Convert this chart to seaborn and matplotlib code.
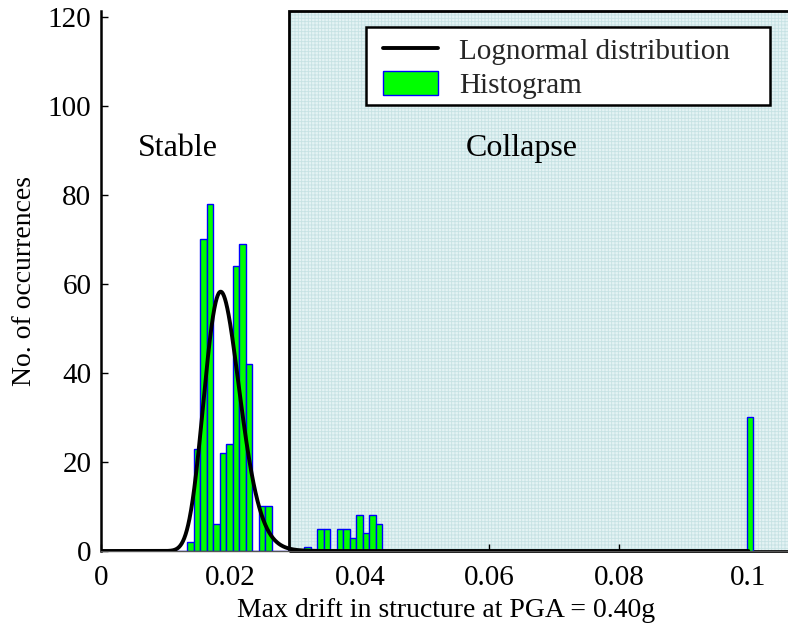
import numpy as np
import pandas as pd
import matplotlib
matplotlib.use("Agg")
import matplotlib.pyplot as plt
from matplotlib.patches import Rectangle
from matplotlib.lines import Line2D
from matplotlib.patches import Patch
import seaborn as sns

# ---------------- data ----------------
BIN_START = 0.00526          # left edge of first histogram bin
BIN_WIDTH = 0.001005         # histogram bin width
# counts for contiguous bins starting at BIN_START (bins 0..59)
counts_main = [0, 0, 0, 0, 0, 0, 0, 0,
               2, 23, 70, 78, 6, 22, 24, 64, 69, 42, 0, 10, 10,
               0, 0, 0, 0, 0,
               1, 0, 5, 5, 0, 5, 5, 3, 8, 4, 8, 6,
               0, 0, 0, 0, 0, 0, 0, 0, 0, 0, 0, 0, 0, 0, 0, 0, 0, 0, 0, 0, 0, 0]
collapse_bin_index = 94      # bin holding the collapsed cases (drift = 0.1)
collapse_count = 30

# lognormal fit parameters
LOGN_MEDIAN = 0.0189
LOGN_SIGMA = 0.148
LOGN_SCALE = 0.404           # total count x bin width
CURVE_XMAX = 0.1

COLLAPSE_LIMIT = 0.029
x_ticks = [0, 0.02, 0.04, 0.06, 0.08, 0.1]
x_tick_labels = ["0", "0.02", "0.04", "0.06", "0.08", "0.1"]
y_ticks = [0, 20, 40, 60, 80, 100, 120]
legend_labels = ["Lognormal distribution", "Histogram"]

# ---------------- build tables ----------------
idx = list(range(len(counts_main))) + [collapse_bin_index]
cnt = list(counts_main) + [collapse_count]
centers = [BIN_START + (i + 0.5) * BIN_WIDTH for i in idx]
hist_df = pd.DataFrame({"drift": centers, "count": cnt})

xc = np.linspace(1e-5, CURVE_XMAX, 2000)
pdf = np.exp(-(np.log(xc / LOGN_MEDIAN)) ** 2 / (2 * LOGN_SIGMA ** 2)) / (xc * LOGN_SIGMA * np.sqrt(2 * np.pi))
curve_df = pd.DataFrame({"drift": np.concatenate([[0.0], xc]),
                         "occ": np.concatenate([[0.0], LOGN_SCALE * pdf])})

# ---------------- plot ----------------
sns.set_theme(style="white")
plt.rcParams["font.family"] = ["Liberation Serif", "DejaVu Serif"]
plt.rcParams["hatch.linewidth"] = 0.6
plt.rcParams["hatch.color"] = "#c6e2e4"

fig = plt.figure(figsize=(7.88, 6.25), dpi=100)
AX_L, AX_B, AX_W, AX_H = 101, 74, 690, 540
ax = fig.add_axes([AX_L / 788, AX_B / 625, AX_W / 788, AX_H / 625])

def px_to_axes(px, py):
    """pixel position in the 788x625 image (origin top-left) -> axes fraction"""
    return (px - AX_L) / AX_W, (625 - AX_B - py) / AX_H

YMAX = 121.3
XMAX = 0.1066

# collapse region
ax.add_patch(Rectangle((COLLAPSE_LIMIT, 0), 0.2, YMAX, facecolor="#e4f3f4",
                       edgecolor="#c6e2e4", hatch="+++++", linewidth=0, zorder=0,
                       clip_on=False))
ax.add_patch(Rectangle((COLLAPSE_LIMIT, 0), 0.2, YMAX, facecolor="none",
                       edgecolor="black", linewidth=2.0, zorder=1, clip_on=False))

sns.barplot(data=hist_df, x="drift", y="count", native_scale=True, width=1.0,
            color="#00ff00", edgecolor="#0000ff", linewidth=1.0, errorbar=None,
            saturation=1, ax=ax, zorder=2)

sns.lineplot(data=curve_df, x="drift", y="occ", color="black", linewidth=2.8,
             ax=ax, zorder=3)

ax.set_xlim(0, XMAX)
ax.set_ylim(0, YMAX)
ax.set_xticks(x_ticks)
ax.set_xticklabels(x_tick_labels)
ax.set_yticks(y_ticks)
ax.tick_params(axis="both", direction="in", length=5, width=1, labelsize=21,
               colors="black", pad=7)
ax.tick_params(axis="x", pad=10)
ax.tick_params(axis="both", which="both", bottom=True, left=True)

for s in ["top", "right"]:
    ax.spines[s].set_visible(False)
ax.spines["left"].set_color("black")
ax.spines["left"].set_linewidth(1.8)
ax.spines["bottom"].set_color("#555555")
ax.spines["bottom"].set_linewidth(1.0)

ax.set_xlabel("Max drift in structure at PGA = 0.40g", fontsize=20, color="black", labelpad=5)
ax.set_ylabel("No. of occurrences", fontsize=20, color="black", labelpad=8)

ax.text(0.0119, 90.5, "Stable", fontsize=23, ha="center", va="center", color="black")
ax.text(0.0650, 90.5, "Collapse", fontsize=23, ha="center", va="center", color="black")

# legend frame (drawn separately to reproduce the roomy MATLAB-style box)
fx0, fy0 = px_to_axes(366, 105)
fx1, fy1 = px_to_axes(770, 27)
ax.add_patch(Rectangle((fx0, fy0), fx1 - fx0, fy1 - fy0, transform=ax.transAxes,
                       facecolor="white", edgecolor="black", linewidth=1.8,
                       zorder=9, clip_on=False))

handles = [Line2D([0], [0], color="black", linewidth=2.8),
           Patch(facecolor="#00ff00", edgecolor="#0000ff", linewidth=1.0)]
lx, ly = px_to_axes(383, 37)
leg = ax.legend(handles, legend_labels, loc="upper left",
                bbox_to_anchor=(lx, ly), borderaxespad=0,
                fontsize=21, frameon=False,
                handlelength=1.9, handleheight=0.9, handletextpad=0.7,
                labelspacing=0.2, borderpad=0)
leg.set_zorder(10)

fig.savefig("out.png", dpi=100)
